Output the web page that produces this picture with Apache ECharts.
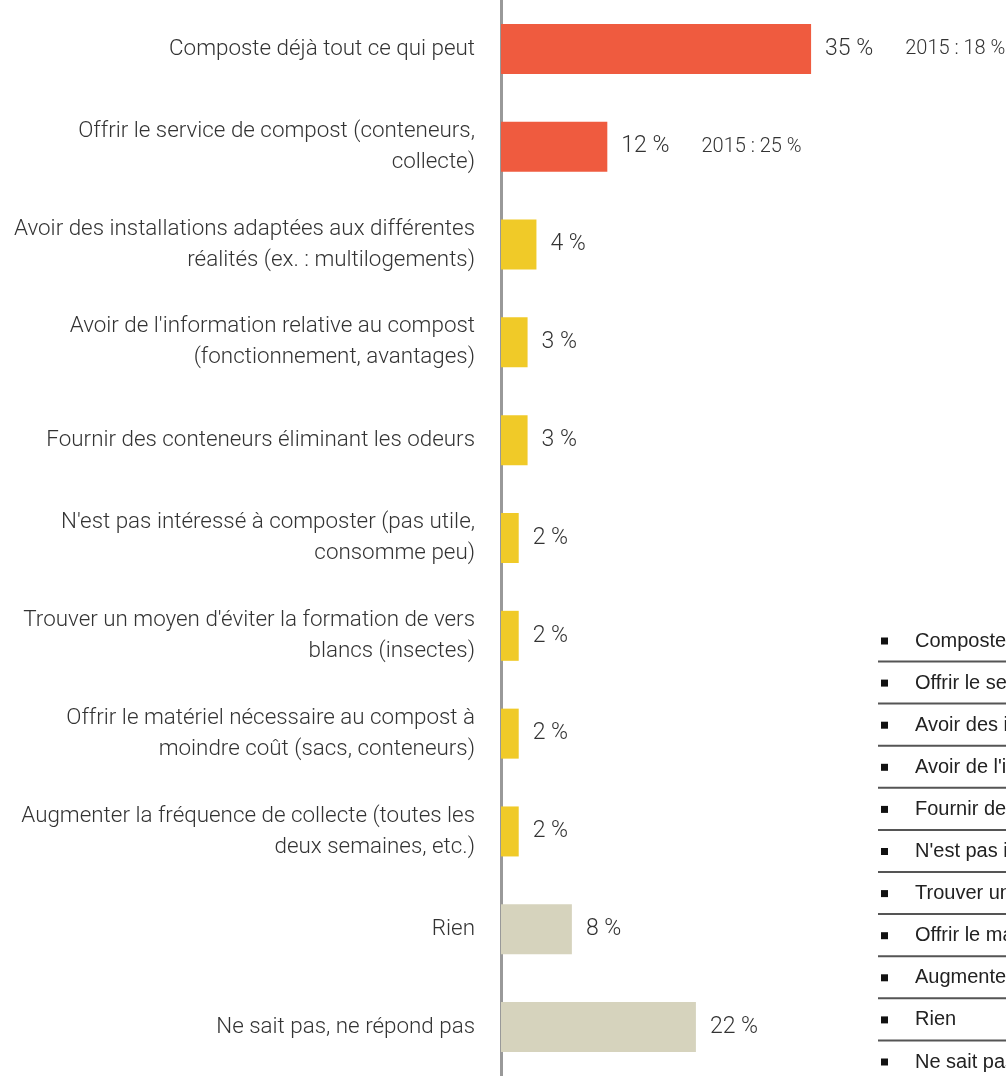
<!DOCTYPE html>
<html>
<head>
<meta charset="utf-8">
<script src="https://cdn.jsdelivr.net/npm/echarts@6/dist/echarts.min.js"></script>
<style>
  html, body { margin: 0; padding: 0; background: #fff; }
  #chart { width: 1006px; height: 1076px; }
</style>
</head>
<body>
<div id="chart"></div>
<script>
// ---- data ----
const categories = [
  "Composte déjà tout ce qui peut",
  "Offrir le service de compost (conteneurs,\ncollecte)",
  "Avoir des installations adaptées aux différentes\nréalités (ex. : multilogements)",
  "Avoir de l'information relative au compost\n(fonctionnement, avantages)",
  "Fournir des conteneurs éliminant les odeurs",
  "N'est pas intéressé à composter (pas utile,\nconsomme peu)",
  "Trouver un moyen d'éviter la formation de vers\nblancs (insectes)",
  "Offrir le matériel nécessaire au compost à\nmoindre coût (sacs, conteneurs)",
  "Augmenter la fréquence de collecte (toutes les\ndeux semaines, etc.)",
  "Rien",
  "Ne sait pas, ne répond pas"
];
const values = [35, 12, 4, 3, 3, 2, 2, 2, 2, 8, 22];
const values2015 = [18, 25, null, null, null, null, null, null, null, null, null];
const groups = ["main", "main", "mid", "mid", "mid", "mid", "mid", "mid", "mid", "none", "none"];

// ---- styles ----
const groupColors = { main: "#EF5B3F", mid: "#F0CA28", none: "#D6D3BD" };
const labelFont = "Roboto";

const chart = echarts.init(document.getElementById("chart"), null, { renderer: "canvas" });

const legendTop = 641, legendStep = 42.1;
const legendGraphics = [];
categories.forEach((c, i) => {
  const y = legendTop + i * legendStep;
  legendGraphics.push({
    type: "rect", shape: { x: 881, y: y - 3.5, width: 7, height: 7 },
    style: { fill: "#111" }
  });
  legendGraphics.push({
    type: "text", x: 915, y: y,
    style: { text: c.replace(/\n/g, " "), font: "20px 'Liberation Sans', Arial", fill: "#222", verticalAlign: "middle" }
  });
  if (i < categories.length - 1) {
    legendGraphics.push({
      type: "line", shape: { x1: 878, y1: y + 20.5, x2: 1006, y2: y + 20.5 },
      style: { stroke: "#555", lineWidth: 2 }
    });
  }
});

chart.setOption({
  animation: false,
  grid: { left: 501, right: 0, top: -2, bottom: -21, containLabel: false },
  xAxis: { type: "value", min: 0, max: 57, show: false },
  yAxis: {
    type: "category", inverse: true, data: categories,
    axisLine: { show: true, lineStyle: { color: "#999", width: 3 } },
    axisTick: { show: false },
    axisLabel: {
      color: "#333", fontFamily: labelFont, fontWeight: 300, fontSize: 22.4,
      lineHeight: 31, margin: 26, align: "right"
    }
  },
  series: [{
    type: "bar", barWidth: 50,
    data: values.map((v, i) => ({ value: v, itemStyle: { color: groupColors[groups[i]] } })),
    label: {
      show: true, position: "right", distance: 14,
      formatter: p => {
        const c = values2015[p.dataIndex];
        return c != null ? `{v|${p.value} %}{c|2015 : ${c} %}` : `{v|${p.value} %}`;
      },
      rich: {
        v: { color: "#333", fontFamily: labelFont, fontWeight: 300, fontSize: 23 },
        c: { color: "#333", fontFamily: labelFont, fontWeight: 300, fontSize: 20, padding: [0, 0, 0, 32] }
      }
    }
  }],
  graphic: legendGraphics
});
</script>
</body>
</html>
